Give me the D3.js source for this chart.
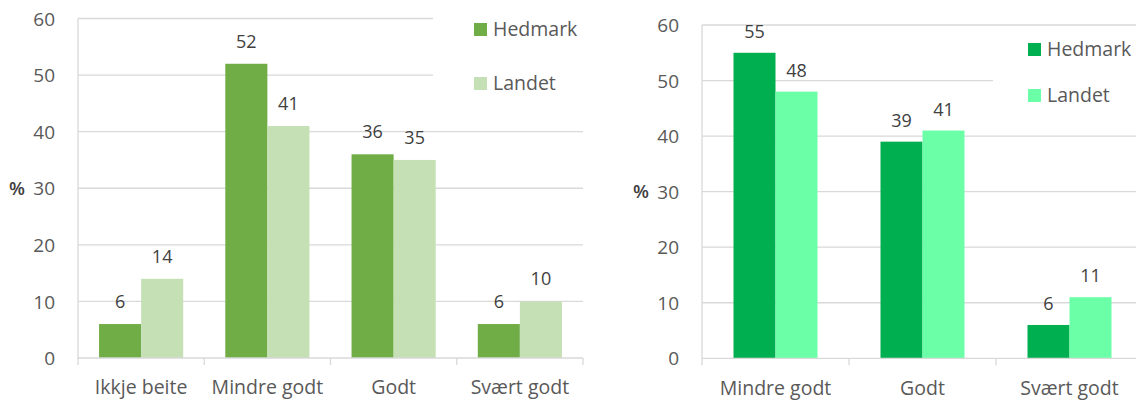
<!DOCTYPE html>
<html>
<head>
<meta charset="utf-8">
<script src="https://cdn.jsdelivr.net/npm/d3@7"></script>
<style>
  body { margin: 0; background: #fff; }
  svg { display: block; font-family: "Open Sans", sans-serif; }
</style>
</head>
<body>
<div id="chart"></div>
<script>
// data
const seriesNames = ["Hedmark", "Landet"];
const yTicks = [0, 10, 20, 30, 40, 50, 60];

const leftCategories = ["Ikkje beite", "Mindre godt", "Godt", "Svært godt"];
const leftHedmark = [6, 52, 36, 6];
const leftLandet = [14, 41, 35, 10];

const rightCategories = ["Mindre godt", "Godt", "Svært godt"];
const rightHedmark = [55, 39, 6];
const rightLandet = [48, 41, 11];

const width = 1136, height = 401;
const gridColor = "#d9d9d9";

const svg = d3.select("#chart").append("svg")
  .attr("width", width)
  .attr("height", height);

function drawChart(cfg) {
  const g = svg.append("g");

  const rows = cfg.categories.map((c, i) => ({
    cat: c,
    values: [cfg.hedmark[i], cfg.landet[i]]
  }));

  const y = d3.scaleLinear().domain([0, 60]).range([cfg.bottom, cfg.top]);

  const x0 = d3.scaleBand()
    .domain(cfg.categories)
    .range([cfg.left, cfg.right])
    .padding(0);

  const x1 = d3.scaleBand()
    .domain(seriesNames)
    .range([0, x0.bandwidth()])
    .paddingInner(0)
    .paddingOuter(cfg.outer);

  // gridlines
  g.selectAll(".grid")
    .data(yTicks.filter(t => t > 0))
    .join("line")
    .attr("x1", cfg.left)
    .attr("x2", cfg.right)
    .attr("y1", d => y(d))
    .attr("y2", d => y(d))
    .attr("stroke", gridColor)
    .attr("stroke-width", 1.3);

  // legend background hides gridlines behind it
  g.append("rect")
    .attr("x", cfg.legendBox[0])
    .attr("y", cfg.legendBox[1])
    .attr("width", cfg.legendBox[2])
    .attr("height", cfg.legendBox[3])
    .attr("fill", "#fff");

  // y axis line
  g.append("line")
    .attr("x1", cfg.left).attr("x2", cfg.left)
    .attr("y1", y(60)).attr("y2", y(0))
    .attr("stroke", gridColor).attr("stroke-width", 1.3);

  // bars
  const groups = g.selectAll(".grp")
    .data(rows)
    .join("g")
    .attr("transform", d => `translate(${x0(d.cat)},0)`);

  groups.selectAll("rect")
    .data(d => d.values.map((v, i) => ({ key: seriesNames[i], value: v })))
    .join("rect")
    .attr("x", d => x1(d.key))
    .attr("y", d => y(d.value))
    .attr("width", x1.bandwidth())
    .attr("height", d => y(0) - y(d.value))
    .attr("fill", (d, i) => cfg.colors[i]);

  groups.selectAll("text")
    .data(d => d.values.map((v, i) => ({ key: seriesNames[i], value: v })))
    .join("text")
    .attr("x", d => x1(d.key) + x1.bandwidth() / 2)
    .attr("y", d => y(d.value) - cfg.labelGap)
    .attr("text-anchor", "middle")
    .attr("fill", "#404040")
    .style("font-size", "18px")
    .text(d => d.value);

  // x axis
  g.append("line")
    .attr("x1", cfg.left).attr("x2", cfg.right)
    .attr("y1", y(0)).attr("y2", y(0))
    .attr("stroke", gridColor).attr("stroke-width", 1.3);

  const bounds = cfg.categories.map(c => x0(c)).concat([cfg.right]);
  g.selectAll(".xtick")
    .data(bounds)
    .join("line")
    .attr("x1", d => d).attr("x2", d => d)
    .attr("y1", y(0)).attr("y2", y(0) + 7)
    .attr("stroke", gridColor).attr("stroke-width", 1.3);

  const xAxis = g.append("g")
    .attr("transform", `translate(0,${y(0)})`)
    .call(d3.axisBottom(x0).tickSize(0).tickPadding(22.5));
  xAxis.select(".domain").remove();
  xAxis.selectAll("text")
    .attr("fill", "#595959")
    .style("font-size", "19.5px")
    .style("font-family", "Open Sans, sans-serif");

  const yAxis = g.append("g")
    .attr("transform", `translate(${cfg.left},0)`)
    .call(d3.axisLeft(y).tickValues(yTicks).tickSize(0).tickPadding(23));
  yAxis.select(".domain").remove();
  yAxis.selectAll("text")
    .attr("fill", "#595959")
    .attr("dy", "0.35em")
    .style("font-size", "19px")
    .style("font-family", "Open Sans, sans-serif");

  g.append("text")
    .attr("x", cfg.left - 69)
    .attr("y", y(30))
    .attr("dy", "0.36em")
    .attr("fill", "#404040")
    .style("font-size", "18.5px")
    .style("font-weight", "600")
    .text("%");

  // legend
  const leg = g.selectAll(".leg")
    .data(seriesNames)
    .join("g")
    .attr("transform", (d, i) => `translate(${cfg.legendX},${cfg.legendY + i * cfg.legendStep})`);
  leg.append("rect")
    .attr("width", 13).attr("height", 13)
    .attr("fill", (d, i) => cfg.colors[i]);
  leg.append("text")
    .attr("x", 19)
    .attr("y", 13)
    .attr("fill", "#595959")
    .style("font-size", "19.5px")
    .text(d => d);
}

drawChart({
  categories: leftCategories,
  hedmark: leftHedmark,
  landet: leftLandet,
  left: 78, right: 583, top: 18.5, bottom: 358,
  outer: 0.5,
  labelGap: 16,
  colors: ["#70ad47", "#c5e0b4"],
  legendBox: [433, 8, 160, 102],
  legendX: 474, legendY: 23, legendStep: 54
});

drawChart({
  categories: rightCategories,
  hedmark: rightHedmark,
  landet: rightLandet,
  left: 702, right: 1143, top: 25, bottom: 358.3,
  outer: 0.75,
  labelGap: 15,
  colors: ["#00b050", "#6bffa8"],
  legendBox: [993, 33, 150, 92],
  legendX: 1028, legendY: 43, legendStep: 46
});
</script>
</body>
</html>
